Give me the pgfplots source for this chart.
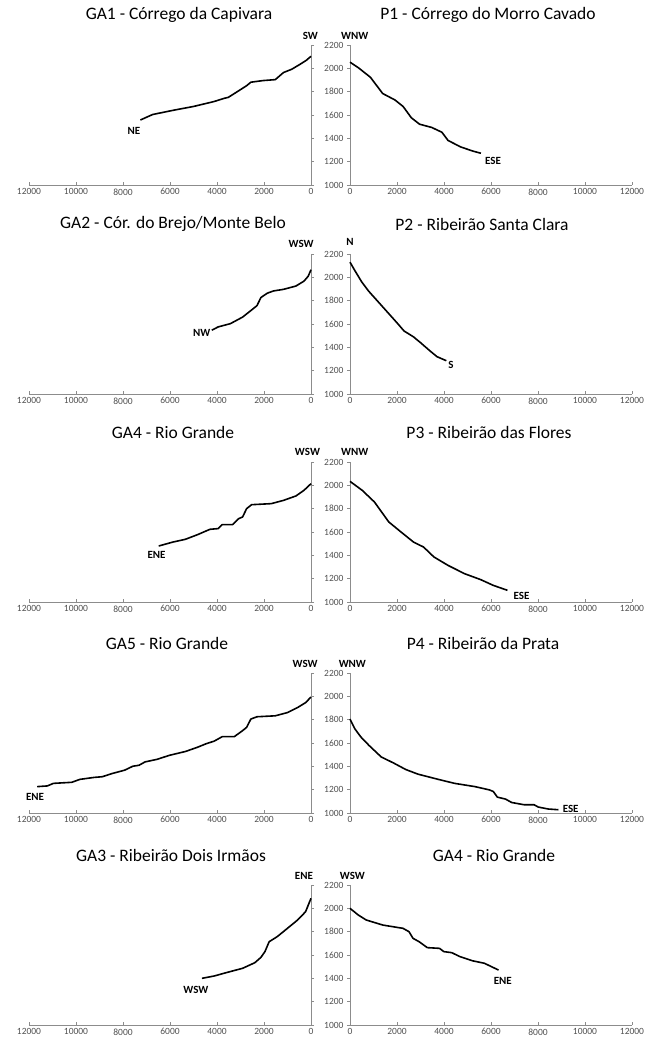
\documentclass[border=0pt]{standalone}
\usepackage{fontspec}
\setmainfont{Carlito}
\usepackage{pgfplots}
\pgfplotsset{compat=1.18}
\definecolor{axgray}{RGB}{140,140,140}
\definecolor{lblgray}{RGB}{80,80,80}
\pgfplotsset{
  prof/.style={
    width=282pt, height=140pt, scale only axis, anchor=south west,
    xmin=0, xmax=12000, ymin=1000, ymax=2200,
    xtick={0,2000,...,12000}, ytick={1000,1200,...,2200},
    scaled ticks=false,
    axis line style={draw=axgray, line width=0.6pt, -},
    every tick/.style={draw=axgray, line width=0.6pt},
    major tick length=3pt,
    xtick align=inside, ytick align=outside,
    tick label style={font=\fontsize{9.5}{10}\selectfont, text=lblgray},
    /pgf/number format/assume math mode=true,
    /pgf/number format/1000 sep={},
    clip=false,
    title style={font=\fontsize{17.5}{19}\selectfont, at={(0.5,1)}, anchor=center, yshift=24pt},
  },
  lpanel/.style={prof, x dir=reverse, axis x line*=bottom, axis y line*=right, yticklabels={}},
  rpanel/.style={prof, axis x line*=bottom, axis y line*=left},
  curve/.style={black, line width=1.6pt, no marks, line join=round},
}
\tikzset{dirlab/.style={font=\fontsize{11}{12}\bfseries, inner sep=0pt, text=black}}
\begin{document}
\begin{tikzpicture}
\useasboundingbox (0,0) rectangle (646pt,1043pt);
% ---------------- Row 1
\begin{axis}[lpanel, at={(29pt,858pt)}, title={GA1 - Córrego da Capivara}, title style={xshift=9pt}]
\addplot[curve] coordinates {(7260,1557) (6740,1604) (5870,1640) (5000,1673) (4130,1715) (3690,1743) (3520,1751) (3260,1784) (2740,1851) (2560,1881) (2040,1895) (1520,1903) (1250,1950) (1170,1964) (820,1992) (470,2034) (210,2067) (0,2103)};
\node[dirlab] at (axis cs:30,2280) {SW};
\node[dirlab] at (axis cs:7530,1466) {NE};
\end{axis}
\begin{axis}[rpanel, at={(350pt,858pt)}, title={P1 - Córrego do Morro Cavado}, title style={xshift=-3pt}]
\addplot[curve] coordinates {(0,2053) (350,2006) (870,1923) (1390,1784) (1910,1729) (2260,1673) (2610,1576) (2960,1521) (3480,1493) (3910,1452) (4170,1382) (4700,1327) (5220,1291) (5570,1272)};
\node[dirlab] at (axis cs:200,2280) {WNW};
\node[dirlab] at (axis cs:6090,1208) {ESE};
\end{axis}
% ---------------- Row 2
\begin{axis}[lpanel, at={(29pt,649pt)}, title={GA2 - Cór. do Brejo/Monte Belo}, title style={xshift=3pt}]
\addplot[curve] coordinates {(4220,1547) (3950,1575) (3430,1603) (2910,1659) (2560,1715) (2300,1757) (2130,1827) (1860,1864) (1600,1883) (1170,1897) (645,1925) (300,1967) (120,2009) (0,2065)};
\node[dirlab] at (axis cs:420,2286) {WSW};
\node[dirlab] at (axis cs:4650,1527) {NW};
\end{axis}
\begin{axis}[rpanel, at={(350pt,649pt)}, title={P2 - Ribeirão Santa Clara}, title style={xshift=-9pt}]
\addplot[curve] coordinates {(0,2130) (200,2060) (500,1960) (800,1880) (1200,1790) (1600,1700) (2000,1610) (2300,1540) (2700,1490) (3000,1440) (3400,1370) (3700,1320) (4100,1285)};
\node[dirlab] at (axis cs:0,2300) {N};
\node[dirlab] at (axis cs:4300,1247) {S};
\end{axis}
% ---------------- Row 3
\begin{axis}[lpanel, at={(29pt,441pt)}, title={GA4 - Rio Grande}, title style={xshift=3pt}]
\addplot[curve] coordinates {(6480,1480) (5870,1514) (5350,1537) (4830,1577) (4300,1623) (3950,1629) (3780,1663) (3340,1663) (3080,1714) (2910,1729) (2740,1800) (2530,1834) (1690,1843) (1170,1871) (640,1909) (300,1957) (0,2014)};
\node[dirlab] at (axis cs:150,2286) {WSW};
\node[dirlab] at (axis cs:6570,1400) {ENE};
\end{axis}
\begin{axis}[rpanel, at={(350pt,441pt)}, title={P3 - Ribeirão das Flores}, title style={xshift=-2pt}]
\addplot[curve] coordinates {(0,2034) (520,1957) (1040,1857) (1650,1686) (2170,1600) (2700,1514) (3130,1471) (3570,1386) (4170,1314) (4870,1243) (5570,1191) (6090,1143) (6700,1100)};
\node[dirlab] at (axis cs:200,2286) {WNW};
\node[dirlab] at (axis cs:7300,1049) {ESE};
\end{axis}
% ---------------- Row 4
\begin{axis}[lpanel, at={(29pt,230pt)}, title={GA5 - Rio Grande}, title style={xshift=-3pt}]
\addplot[curve] coordinates {(11650,1226) (11220,1232) (10960,1254) (10180,1263) (9840,1288) (9230,1305) (8880,1311) (8450,1339) (7930,1367) (7580,1401) (7320,1409) (7060,1438) (6550,1460) (6030,1494) (5330,1528) (4810,1565) (4470,1593) (4120,1616) (3770,1655) (3260,1655) (2910,1706) (2740,1734) (2560,1805) (2300,1825) (1520,1833) (1000,1861) (570,1904) (230,1946) (0,1994)};
\node[dirlab] at (axis cs:250,2280) {WSW};
\node[dirlab] at (axis cs:11740,1141) {ENE};
\end{axis}
\begin{axis}[rpanel, at={(350pt,230pt)}, title={P4 - Ribeirão da Prata}, title style={xshift=-8pt}]
\addplot[curve] coordinates {(0,1805) (210,1720) (470,1650) (810,1579) (1330,1480) (1850,1429) (2370,1373) (2890,1333) (3760,1288) (4450,1254) (5320,1226) (5930,1198) (6100,1184) (6270,1136) (6620,1119) (6880,1090) (7400,1071) (7830,1071) (8010,1051) (8440,1034) (8870,1028)};
\node[dirlab] at (axis cs:100,2280) {WNW};
\node[dirlab] at (axis cs:9390,1037) {ESE};
\end{axis}
% ---------------- Row 5
\begin{axis}[lpanel, at={(29pt,18pt)}, title={GA3 - Ribeirão Dois Irmãos}, title style={xshift=1pt}]
\addplot[curve] coordinates {(4640,1400) (4120,1420) (3600,1449) (2910,1486) (2390,1534) (2130,1580) (1960,1629) (1780,1714) (1440,1757) (1000,1829) (570,1900) (230,1971) (0,2086)};
\node[dirlab] at (axis cs:300,2280) {ENE};
\node[dirlab] at (axis cs:4900,1300) {WSW};
\end{axis}
\begin{axis}[rpanel, at={(350pt,18pt)}, title={GA4 - Rio Grande}, title style={xshift=3pt}]
\addplot[curve] coordinates {(0,2000) (350,1943) (690,1900) (1390,1857) (2080,1834) (2250,1829) (2510,1800) (2680,1743) (2940,1714) (3290,1663) (3810,1657) (3990,1629) (4330,1620) (4680,1586) (5200,1551) (5720,1529) (6320,1471)};
\node[dirlab] at (axis cs:100,2280) {WSW};
\node[dirlab] at (axis cs:6500,1377) {ENE};
\end{axis}
\end{tikzpicture}
\end{document}
